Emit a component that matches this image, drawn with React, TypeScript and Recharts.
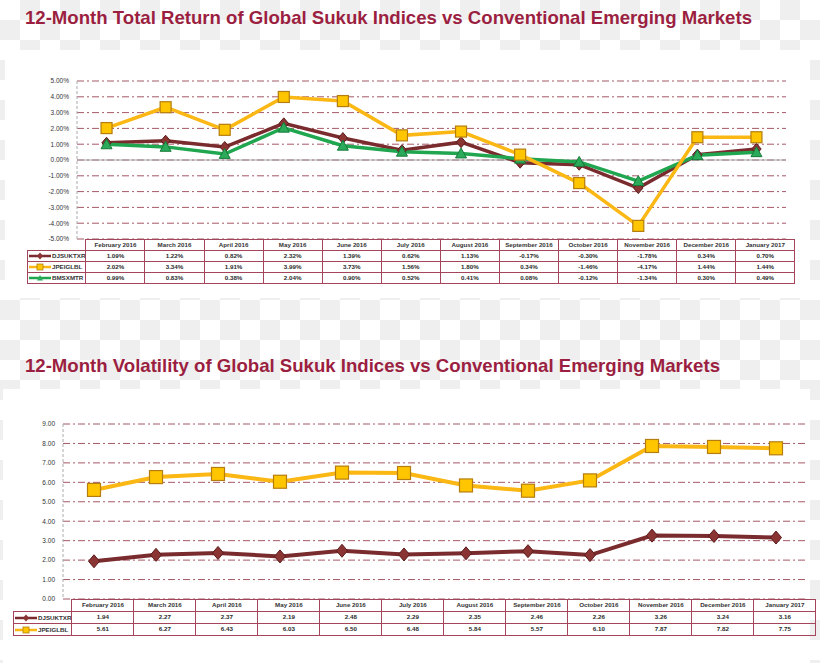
import React from "react";
import {
  LineChart,
  Line,
  XAxis,
  YAxis,
  CartesianGrid,
  ReferenceLine,
} from "recharts";

const months = [
  "February 2016", "March 2016", "April 2016", "May 2016", "June 2016", "July 2016",
  "August 2016", "September 2016", "October 2016", "November 2016", "December 2016", "January 2017",
];

// 12-month total return (%)
const returnDjsuktxr = [1.09, 1.22, 0.82, 2.32, 1.39, 0.62, 1.13, -0.17, -0.3, -1.78, 0.34, 0.7];
const returnJpeiglbl = [2.02, 3.34, 1.91, 3.99, 3.73, 1.56, 1.8, 0.34, -1.46, -4.17, 1.44, 1.44];
const returnBmsxmtr = [0.99, 0.83, 0.38, 2.04, 0.9, 0.52, 0.41, 0.08, -0.12, -1.34, 0.3, 0.49];
const returnTicks = [-5, -4, -3, -2, -1, 0, 1, 2, 3, 4, 5];

// 12-month volatility
const volDjsuktxr = [1.94, 2.27, 2.37, 2.19, 2.48, 2.29, 2.35, 2.46, 2.26, 3.26, 3.24, 3.16];
const volJpeiglbl = [5.61, 6.27, 6.43, 6.03, 6.5, 6.48, 5.84, 5.57, 6.1, 7.87, 7.82, 7.75];
const volTicks = [0, 1, 2, 3, 4, 5, 6, 7, 8, 9];

const MAROON = "#7a2b2e";
const GOLD = "#fbb713";
const GREEN = "#1fa64f";
const GRID = "#8e2d3f";
const TITLE = "#9b1f41";
const BORDER = "#a4455b";

const returnData = months.map((m, i) => ({
  month: m,
  DJSUKTXR: returnDjsuktxr[i],
  JPEIGLBL: returnJpeiglbl[i],
  BMSXMTR: returnBmsxmtr[i],
}));

const volData = months.map((m, i) => ({
  month: m,
  DJSUKTXR: volDjsuktxr[i],
  JPEIGLBL: volJpeiglbl[i],
}));

const diamond = (s: number) => (p: any) =>
  p.cx == null ? null : (
    <path
      key={"d" + p.index}
      d={`M${p.cx},${p.cy - s} L${p.cx + s * 0.85},${p.cy} L${p.cx},${p.cy + s} L${p.cx - s * 0.85},${p.cy} Z`}
      fill="#8a3434"
      stroke="#5c1c1c"
      strokeWidth={1}
    />
  );

const square = (s: number) => (p: any) =>
  p.cx == null ? null : (
    <rect
      key={"s" + p.index}
      x={p.cx - s}
      y={p.cy - s}
      width={s * 2}
      height={s * 2}
      fill="#ffc600"
      stroke="#b57d10"
      strokeWidth={1.2}
    />
  );

const triangle = (s: number) => (p: any) =>
  p.cx == null ? null : (
    <path
      key={"t" + p.index}
      d={`M${p.cx},${p.cy - s} L${p.cx + s},${p.cy + s * 0.8} L${p.cx - s},${p.cy + s * 0.8} Z`}
      fill="#2bab5a"
      stroke="#177a3a"
      strokeWidth={1}
    />
  );

const legendIcon = (color: string, kind: string) => (
  <svg width={22} height={8} style={{ verticalAlign: "middle", marginRight: 1 }}>
    <line x1={0} y1={4} x2={22} y2={4} stroke={color} strokeWidth={2.5} />
    {kind === "d" && <path d="M11,0.5 L14,4 L11,7.5 L8,4 Z" fill="#8a3434" />}
    {kind === "s" && <rect x={8} y={1} width={6} height={6} fill="#ffc600" stroke="#b57d10" strokeWidth={0.8} />}
    {kind === "t" && <path d="M11,1 L14,6.5 L8,6.5 Z" fill="#2bab5a" />}
  </svg>
);

type Row = { name: string; color: string; kind: string; values: number[] };

function DataTable({
  left, top, labelWidth, colWidth, rowHeight, rows, fmt,
}: {
  left: number; top: number; labelWidth: number; colWidth: number; rowHeight: number;
  rows: Row[]; fmt: (v: number) => string;
}) {
  const cell: React.CSSProperties = {
    border: `1px solid ${BORDER}`,
    padding: 0,
    height: rowHeight - 1,
    textAlign: "center",
    overflow: "hidden",
    whiteSpace: "nowrap",
  };
  return (
    <table
      style={{
        position: "absolute",
        left,
        top,
        borderCollapse: "collapse",
        tableLayout: "fixed",
        fontFamily: "'Liberation Sans', Arial, sans-serif",
        fontSize: 6.2,
        fontWeight: "bold",
        color: "#333",
        lineHeight: 1,
      }}
    >
      <colgroup>
        <col style={{ width: labelWidth }} />
        {months.map((m) => (
          <col key={m} style={{ width: colWidth }} />
        ))}
      </colgroup>
      <tbody>
        <tr>
          <td style={{ ...cell, border: "none", borderBottom: `1px solid ${BORDER}` }} />
          {months.map((m) => (
            <td key={m} style={cell}>{m}</td>
          ))}
        </tr>
        {rows.map((r) => (
          <tr key={r.name}>
            <td style={{ ...cell, textAlign: "left", paddingLeft: 1 }}>
              {legendIcon(r.color, r.kind)}
              {r.name}
            </td>
            {r.values.map((v, i) => (
              <td key={i} style={{ ...cell, color: "#2a2a2a" }}>{fmt(v)}</td>
            ))}
          </tr>
        ))}
      </tbody>
    </table>
  );
}

const titleStyle: React.CSSProperties = {
  position: "absolute",
  left: 25,
  fontFamily: "'Liberation Sans', Arial, sans-serif",
  fontSize: 18.6,
  fontWeight: "bold",
  color: TITLE,
  whiteSpace: "nowrap",
  lineHeight: 1,
};

const tickStyle = { fontSize: 6.5, fill: "#333", fontFamily: "'Liberation Sans', Arial, sans-serif" };

export default function App() {
  return (
    <div
      style={{
        position: "absolute",
        left: 0,
        top: 0,
        width: 820,
        height: 663,
        overflow: "hidden",
        background: "repeating-conic-gradient(#efefef 0 25%, #ffffff 0 50%) 0 0 / 40px 40px",
      }}
    >
      <div style={{ ...titleStyle, top: 9 }}>
        12-Month Total Return of Global Sukuk Indices vs Conventional Emerging Markets
      </div>
      <div style={{ position: "absolute", left: 5, top: 50, width: 805, height: 248, background: "#fff" }} />

      <div style={{ ...titleStyle, top: 357 }}>
        12-Month Volatility of Global Sukuk Indices vs Conventional Emerging Markets
      </div>
      <div style={{ position: "absolute", left: 3, top: 389, width: 807, height: 274, background: "#fff" }} />

      <div style={{ position: "absolute", left: 0, top: 60 }}>
        <LineChart width={820} height={190} data={returnData} margin={{ top: 21, right: 34, bottom: 11, left: 17 }}>
          <CartesianGrid vertical={false} stroke={GRID} strokeDasharray="7 3 2 3" strokeWidth={0.8} />
          <XAxis dataKey="month" hide scale="band" />
          <YAxis
            width={60}
            domain={[-5, 5]}
            ticks={returnTicks}
            tickFormatter={(v: number) => `${v.toFixed(2)}%`}
            tickLine={false}
            axisLine={{ stroke: "#aaa", strokeDasharray: "3 2" }}
            tick={tickStyle}
            interval={0}
          />
          <ReferenceLine y={0} stroke="#a0a0a0" strokeWidth={1} />
          <Line dataKey="DJSUKTXR" stroke={MAROON} strokeWidth={3.5} dot={diamond(5.5)} isAnimationActive={false} />
          <Line dataKey="BMSXMTR" stroke={GREEN} strokeWidth={3.5} dot={triangle(5.5)} isAnimationActive={false} />
          <Line dataKey="JPEIGLBL" stroke={GOLD} strokeWidth={3.5} dot={square(5.5)} isAnimationActive={false} />
        </LineChart>
      </div>
      <DataTable
        left={27}
        top={239}
        labelWidth={50}
        colWidth={709 / 12}
        rowHeight={11}
        fmt={(v) => `${v.toFixed(2)}%`}
        rows={[
          { name: "DJSUKTXR", color: MAROON, kind: "d", values: returnDjsuktxr },
          { name: "JPEIGLBL", color: GOLD, kind: "s", values: returnJpeiglbl },
          { name: "BMSXMTR", color: GREEN, kind: "t", values: returnBmsxmtr },
        ]}
      />

      <div style={{ position: "absolute", left: 0, top: 400 }}>
        <LineChart width={820} height={210} data={volData} margin={{ top: 24, right: 13, bottom: 11, left: 13 }}>
          <CartesianGrid vertical={false} stroke={GRID} strokeDasharray="7 3 2 3" strokeWidth={0.8} />
          <XAxis dataKey="month" hide scale="band" />
          <YAxis
            width={50}
            domain={[0, 9]}
            ticks={volTicks}
            tickFormatter={(v: number) => v.toFixed(2)}
            tickLine={false}
            axisLine={{ stroke: "#aaa", strokeDasharray: "3 2" }}
            tick={tickStyle}
            interval={0}
          />
          <Line dataKey="DJSUKTXR" stroke={MAROON} strokeWidth={4} dot={diamond(6.5)} isAnimationActive={false} />
          <Line dataKey="JPEIGLBL" stroke={GOLD} strokeWidth={4} dot={square(6.5)} isAnimationActive={false} />
        </LineChart>
      </div>
      <DataTable
        left={13}
        top={599}
        labelWidth={50}
        colWidth={744 / 12}
        rowHeight={12}
        fmt={(v) => v.toFixed(2)}
        rows={[
          { name: "DJSUKTXR", color: MAROON, kind: "d", values: volDjsuktxr },
          { name: "JPEIGLBL", color: GOLD, kind: "s", values: volJpeiglbl },
        ]}
      />
    </div>
  );
}
